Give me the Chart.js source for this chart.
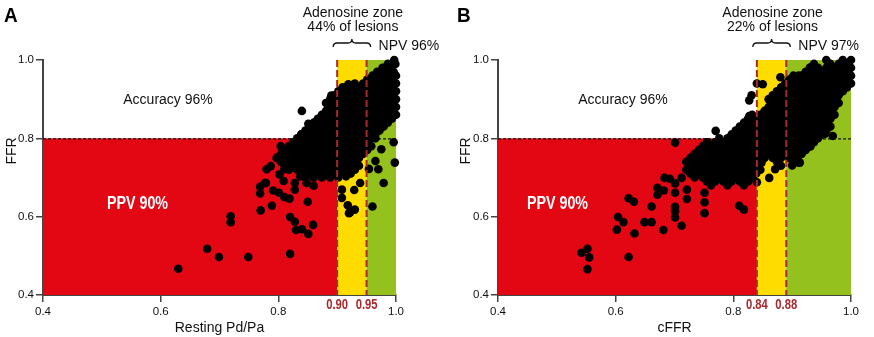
<!DOCTYPE html>
<html>
<head>
<meta charset="utf-8">
<script src="https://cdn.jsdelivr.net/npm/chart.js@4.4.1/dist/chart.umd.min.js"></script>
<style>
  html, body { margin: 0; padding: 0; background: #fff; }
  #wrap { position: relative; width: 874px; height: 337px; overflow: hidden; }
  #wrap canvas { position: absolute; top: 0; }
  #chartA { left: 0; }
  #chartB { left: 437px; }
</style>
</head>
<body>
<div id="wrap">
  <canvas id="chartA" width="460" height="337"></canvas>
  <canvas id="chartB" width="437" height="337"></canvas>
</div>
<script>
// axis range and FFR cut-off
const axisMin = 0.4;
const axisMax = 1.0;
const ffrCutoff = 0.8;
const tickValues = [0.4, 0.6, 0.8, 1.0];

// panel A: resting Pd/Pa vs FFR
const thresholdsA = [0.90, 0.95];
const thresholdLabelsA = ['0.90', '0.95'];
const textsA = ['A', 'Adenosine zone', '44% of lesions', 'NPV 96%', 'Accuracy 96%', 'PPV 90%', 'Resting Pd/Pa', 'FFR'];

// scattered points [Pd/Pa, FFR]
const outliersA = [
  [0.630, 0.467], [0.679, 0.518], [0.699, 0.497], [0.749, 0.497], [0.719, 0.601], [0.719, 0.586],
  [0.820, 0.505], [0.770, 0.616], [0.789, 0.628], [0.769, 0.659], [0.769, 0.676], [0.779, 0.686],
  [0.820, 0.599], [0.828, 0.587], [0.830, 0.566], [0.840, 0.568], [0.851, 0.556], [0.859, 0.579],
  [0.850, 0.638], [0.791, 0.667], [0.801, 0.661], [0.810, 0.650], [0.819, 0.646], [0.780, 0.721],
  [0.787, 0.729], [0.802, 0.708], [0.809, 0.691], [0.810, 0.721], [0.828, 0.669], [0.828, 0.686],
  [0.837, 0.703], [0.848, 0.686], [0.860, 0.679], [0.777, 0.686],
  [0.908, 0.669], [0.908, 0.648], [0.918, 0.629], [0.920, 0.609], [0.930, 0.618], [0.929, 0.668],
  [0.939, 0.686], [0.915, 0.703], [0.922, 0.611],
  [0.960, 0.626], [0.979, 0.686], [0.970, 0.721], [0.954, 0.722], [0.998, 0.738], [0.965, 0.742],
  [0.996, 0.790], [0.975, 0.772], [0.965, 0.800],
  [0.840, 0.870], [0.851, 0.837], [0.890, 0.909], [0.919, 0.938], [0.839, 0.810]
];
// dense cloud, one row per FFR level: [FFR, [Pd/Pa values]]
const rowsA = [
  [1.00, [0.997]],
  [0.99, [0.986, 0.999]],
  [0.98, [0.977, 0.990]],
  [0.97, [0.968, 0.982, 0.996]],
  [0.96, [0.960, 0.974, 0.988, 1.000]],
  [0.95, [0.951, 0.965, 0.979, 0.993]],
  [0.94, [0.930, 0.944, 0.958, 0.972, 0.986, 1.000]],
  [0.93, [0.909, 0.923, 0.937, 0.951, 0.965, 0.979, 0.993]],
  [0.92, [0.902, 0.916, 0.930, 0.944, 0.958, 0.972, 0.986, 1.000]],
  [0.91, [0.895, 0.909, 0.923, 0.937, 0.951, 0.965, 0.979, 0.993]],
  [0.90, [0.888, 0.902, 0.916, 0.930, 0.944, 0.958, 0.972, 0.986, 1.000]],
  [0.89, [0.881, 0.895, 0.909, 0.923, 0.937, 0.951, 0.965, 0.979, 0.993]],
  [0.88, [0.888, 0.902, 0.916, 0.930, 0.944, 0.958, 0.972, 0.986, 1.000]],
  [0.87, [0.881, 0.895, 0.909, 0.923, 0.937, 0.951, 0.965, 0.979, 0.993]],
  [0.86, [0.874, 0.888, 0.902, 0.916, 0.930, 0.944, 0.958, 0.972, 0.986, 1.000]],
  [0.85, [0.867, 0.881, 0.895, 0.909, 0.923, 0.937, 0.951, 0.965, 0.979, 0.993]],
  [0.84, [0.860, 0.874, 0.888, 0.902, 0.916, 0.930, 0.944, 0.958, 0.972, 0.986]],
  [0.83, [0.853, 0.867, 0.881, 0.895, 0.909, 0.923, 0.937, 0.951, 0.965, 0.979]],
  [0.82, [0.846, 0.860, 0.874, 0.888, 0.902, 0.916, 0.930, 0.944, 0.958, 0.972]],
  [0.81, [0.839, 0.853, 0.867, 0.881, 0.895, 0.909, 0.923, 0.937, 0.951, 0.965]],
  [0.80, [0.832, 0.846, 0.860, 0.874, 0.888, 0.902, 0.916, 0.930, 0.944, 0.958]],
  [0.79, [0.825, 0.839, 0.853, 0.867, 0.881, 0.895, 0.909, 0.923, 0.937, 0.951]],
  [0.78, [0.804, 0.818, 0.832, 0.846, 0.860, 0.874, 0.888, 0.902, 0.916, 0.930, 0.944, 0.958]],
  [0.77, [0.811, 0.825, 0.839, 0.853, 0.867, 0.881, 0.895, 0.909, 0.923, 0.937, 0.951]],
  [0.76, [0.804, 0.818, 0.832, 0.846, 0.860, 0.874, 0.888, 0.902, 0.916, 0.930, 0.944]],
  [0.75, [0.797, 0.811, 0.825, 0.839, 0.853, 0.867, 0.881, 0.895, 0.909, 0.923, 0.937]],
  [0.74, [0.804, 0.818, 0.832, 0.846, 0.860, 0.874, 0.888, 0.902, 0.916, 0.930]],
  [0.73, [0.811, 0.825, 0.839, 0.853, 0.867, 0.881, 0.895, 0.909, 0.923, 0.937]],
  [0.72, [0.818, 0.832, 0.846, 0.860, 0.874, 0.888, 0.902, 0.916, 0.930]],
  [0.71, [0.839, 0.853, 0.867, 0.881, 0.895, 0.909, 0.923]],
  [0.70, [0.846, 0.860, 0.874, 0.888, 0.902]]
];

// panel B: cFFR vs FFR
const thresholdsB = [0.84, 0.89];
const thresholdLabelsB = ['0.84', '0.88'];
const textsB = ['B', 'Adenosine zone', '22% of lesions', 'NPV 97%', 'Accuracy 96%', 'PPV 90%', 'cFFR', 'FFR'];

const outliersB = [
  [0.552, 0.466], [0.542, 0.508], [0.552, 0.518], [0.555, 0.496], [0.622, 0.497], [0.602, 0.567],
  [0.604, 0.599], [0.613, 0.586], [0.632, 0.557], [0.622, 0.647], [0.631, 0.638], [0.649, 0.586],
  [0.661, 0.586], [0.661, 0.626], [0.681, 0.566], [0.671, 0.674], [0.671, 0.656], [0.682, 0.667],
  [0.683, 0.699], [0.692, 0.697], [0.701, 0.625], [0.701, 0.614], [0.701, 0.598], [0.712, 0.577],
  [0.701, 0.661], [0.701, 0.685], [0.721, 0.645], [0.721, 0.669], [0.712, 0.699], [0.731, 0.731],
  [0.731, 0.713], [0.751, 0.637], [0.751, 0.609], [0.751, 0.661], [0.701, 0.789], [0.810, 0.628],
  [0.818, 0.618], [0.770, 0.819],
  [0.840, 0.688], [0.861, 0.699], [0.871, 0.721], [0.848, 0.738], [0.900, 0.731], [0.911, 0.738],
  [0.827, 0.897], [0.831, 0.910], [0.827, 0.857], [0.840, 0.940], [0.850, 0.938], [0.880, 0.956],
  [0.911, 0.960], [0.931, 0.981], [0.969, 0.806], [0.956, 0.812], [0.931, 0.779], [0.913, 0.738]
];
const rowsB = [
  [1.00, [0.958, 0.986, 1.000]],
  [0.99, [0.937, 0.965, 0.979, 0.993]],
  [0.98, [0.930, 0.944, 0.958, 0.972, 0.986, 1.000]],
  [0.97, [0.923, 0.937, 0.951, 0.965, 0.979, 0.993]],
  [0.96, [0.902, 0.916, 0.930, 0.944, 0.958, 0.972, 0.986, 1.000]],
  [0.95, [0.895, 0.909, 0.923, 0.937, 0.951, 0.965, 0.979, 0.993]],
  [0.94, [0.888, 0.902, 0.916, 0.930, 0.944, 0.958, 0.972, 0.986, 1.000]],
  [0.93, [0.881, 0.895, 0.909, 0.923, 0.937, 0.951, 0.965, 0.979, 0.993]],
  [0.92, [0.874, 0.888, 0.902, 0.916, 0.930, 0.944, 0.958, 0.972, 0.986]],
  [0.91, [0.867, 0.881, 0.895, 0.909, 0.923, 0.937, 0.951, 0.965, 0.979]],
  [0.90, [0.860, 0.874, 0.888, 0.902, 0.916, 0.930, 0.944, 0.958, 0.972]],
  [0.89, [0.867, 0.881, 0.895, 0.909, 0.923, 0.937, 0.951, 0.965, 0.979]],
  [0.88, [0.860, 0.874, 0.888, 0.902, 0.916, 0.930, 0.944, 0.958, 0.972]],
  [0.87, [0.853, 0.867, 0.881, 0.895, 0.909, 0.923, 0.937, 0.951, 0.965]],
  [0.86, [0.832, 0.846, 0.860, 0.874, 0.888, 0.902, 0.916, 0.930, 0.944, 0.958, 0.972]],
  [0.85, [0.825, 0.839, 0.853, 0.867, 0.881, 0.895, 0.909, 0.923, 0.937, 0.951, 0.965]],
  [0.84, [0.818, 0.832, 0.846, 0.860, 0.874, 0.888, 0.902, 0.916, 0.930, 0.944, 0.958]],
  [0.83, [0.811, 0.825, 0.839, 0.853, 0.867, 0.881, 0.895, 0.909, 0.923, 0.937, 0.951, 0.965]],
  [0.82, [0.804, 0.818, 0.832, 0.846, 0.860, 0.874, 0.888, 0.902, 0.916, 0.930, 0.944, 0.958]],
  [0.81, [0.797, 0.811, 0.825, 0.839, 0.853, 0.867, 0.881, 0.895, 0.909, 0.923, 0.937, 0.951]],
  [0.80, [0.776, 0.790, 0.804, 0.818, 0.832, 0.846, 0.860, 0.874, 0.888, 0.902, 0.916, 0.930, 0.944]],
  [0.79, [0.755, 0.769, 0.783, 0.797, 0.811, 0.825, 0.839, 0.853, 0.867, 0.881, 0.895, 0.909, 0.923, 0.937]],
  [0.78, [0.748, 0.762, 0.776, 0.790, 0.804, 0.818, 0.832, 0.846, 0.860, 0.874, 0.888, 0.902, 0.916, 0.930]],
  [0.77, [0.741, 0.755, 0.769, 0.783, 0.797, 0.811, 0.825, 0.839, 0.853, 0.867, 0.881, 0.895, 0.909, 0.923]],
  [0.76, [0.734, 0.748, 0.762, 0.776, 0.790, 0.804, 0.818, 0.832, 0.846, 0.860, 0.874, 0.888, 0.902, 0.916]],
  [0.75, [0.727, 0.741, 0.755, 0.769, 0.783, 0.797, 0.811, 0.825, 0.839, 0.853, 0.867, 0.881, 0.895, 0.909]],
  [0.74, [0.720, 0.734, 0.748, 0.762, 0.776, 0.790, 0.804, 0.818, 0.832, 0.846, 0.874, 0.902]],
  [0.73, [0.727, 0.741, 0.755, 0.769, 0.783, 0.797, 0.811, 0.825, 0.839, 0.881]],
  [0.72, [0.720, 0.734, 0.748, 0.762, 0.776, 0.790, 0.804, 0.818, 0.832, 0.846]],
  [0.71, [0.727, 0.741, 0.755, 0.769, 0.783, 0.797, 0.811, 0.825, 0.839]],
  [0.70, [0.734, 0.748, 0.762, 0.776, 0.790, 0.804, 0.818, 0.832]],
  [0.69, [0.755, 0.769, 0.783, 0.797, 0.811, 0.825]],
  [0.68, [0.762, 0.790, 0.818]]
];

const RED = '#e30613';
const YELLOW = '#ffdc00';
const GREEN = '#95c11f';
const DASH_RED = '#a8282c';
const AXIS = '#444';
const SANS = '"Liberation Sans", Arial, sans-serif';

function toPoints(rows, outliers) {
  const pts = [];
  rows.forEach(r => r[1].forEach(x => pts.push({ x: x, y: r[0] })));
  outliers.forEach(p => pts.push({ x: p[0], y: p[1] }));
  return pts;
}

// text squeezed horizontally, to mimic the condensed face of the original
function narrowText(ctx, s, x, y, align, squeeze) {
  const w = ctx.measureText(s).width * squeeze;
  let left = x;
  if (align === 'center') left = x - w / 2;
  if (align === 'right') left = x - w;
  ctx.save();
  ctx.textAlign = 'left';
  ctx.translate(left, y);
  ctx.scale(squeeze, 1);
  ctx.fillText(s, 0, 0);
  ctx.restore();
}

// zones, dashed lines and labels
const zonePlugin = {
  id: 'zones',
  beforeDatasetsDraw(chart) {
    const o = chart.options.plugins.zones;
    const { ctx, chartArea: a, scales: { x, y } } = chart;
    const t0 = x.getPixelForValue(o.thresholds[0]);
    const t1 = x.getPixelForValue(o.thresholds[1]);
    const yc = y.getPixelForValue(ffrCutoff);
    ctx.save();
    ctx.fillStyle = RED;
    ctx.fillRect(a.left, yc, t0 - a.left, a.bottom - yc);
    ctx.fillStyle = YELLOW;
    ctx.fillRect(t0, a.top, t1 - t0, a.bottom - a.top);
    ctx.fillStyle = GREEN;
    ctx.fillRect(t1, a.top, a.right - t1, a.bottom - a.top);
    // FFR 0.80 line
    ctx.strokeStyle = '#111';
    ctx.lineWidth = 1.2;
    ctx.setLineDash([3, 2]);
    ctx.beginPath();
    ctx.moveTo(a.left, yc + 0.5);
    ctx.lineTo(a.right, yc + 0.5);
    ctx.stroke();
    ctx.restore();
  },
  afterDatasetsDraw(chart) {
    const o = chart.options.plugins.zones;
    const { ctx, chartArea: a, scales: { x } } = chart;
    const t = o.thresholds.map(v => x.getPixelForValue(v));
    const tx = o.texts;
    ctx.save();
    ctx.strokeStyle = DASH_RED;
    ctx.lineWidth = 2;
    ctx.setLineDash([7, 3]);
    t.forEach(px => {
      ctx.beginPath();
      ctx.moveTo(px, a.top);
      ctx.lineTo(px, a.bottom);
      ctx.stroke();
    });
    ctx.setLineDash([]);
    ctx.textBaseline = 'alphabetic';

    // threshold labels under the axis
    ctx.fillStyle = DASH_RED;
    ctx.font = 'bold 15px ' + SANS;
    o.thresholdLabels.forEach((s, i) => narrowText(ctx, s, t[i], 309, 'center', 0.75));

    // panel letter
    ctx.fillStyle = '#000';
    ctx.font = 'bold 21px ' + SANS;
    narrowText(ctx, tx[0], o.letterX, 22, 'left', 0.9);

    // adenosine zone header + brace
    const mid = (t[0] + t[1]) / 2 + 1;
    ctx.font = '14px ' + SANS;
    ctx.textAlign = 'center';
    ctx.fillStyle = '#111';
    ctx.fillText(tx[1], mid, 17);
    ctx.fillText(tx[2], mid, 31);
    ctx.textAlign = 'left';
    ctx.fillText(tx[3], t[1] + 12, 50);

    const b0 = t[0] - 4, b1 = t[1] + 4, by = 43, bm = (b0 + b1) / 2;
    ctx.strokeStyle = '#111';
    ctx.lineWidth = 1.3;
    ctx.beginPath();
    ctx.moveTo(b0, by + 4);
    ctx.quadraticCurveTo(b0, by, b0 + 4, by);
    ctx.lineTo(bm - 4, by);
    ctx.quadraticCurveTo(bm, by, bm, by - 4);
    ctx.quadraticCurveTo(bm, by, bm + 4, by);
    ctx.lineTo(b1 - 4, by);
    ctx.quadraticCurveTo(b1, by, b1, by + 4);
    ctx.stroke();

    // accuracy / PPV
    ctx.textAlign = 'center';
    ctx.font = '14px ' + SANS;
    ctx.fillText(tx[4], a.left + 125, 104);
    ctx.fillStyle = '#fff';
    ctx.font = 'bold 19px ' + SANS;
    narrowText(ctx, tx[5], a.left + o.ppvOffset, 209, 'left', 0.75);

    // axis titles
    ctx.fillStyle = '#111';
    ctx.font = '14px ' + SANS;
    ctx.textAlign = 'center';
    ctx.fillText(tx[6], (a.left + a.right) / 2, 332);
    ctx.save();
    ctx.translate(o.ffrX, 151);
    ctx.rotate(-Math.PI / 2);
    ctx.fillText(tx[7], 0, 0);
    ctx.restore();
    ctx.restore();
  }
};

function makePanel(id, points, thresholds, labels, texts, layout) {
  const tickFont = { family: SANS, size: 11.5 };
  return new Chart(document.getElementById(id), {
    type: 'scatter',
    data: {
      datasets: [{
        data: points,
        backgroundColor: '#000',
        borderWidth: 0,
        pointRadius: 4.3,
        pointHoverRadius: 4.3,
        clip: false
      }]
    },
    options: {
      responsive: false,
      animation: false,
      events: [],
      layout: { padding: { top: 60, right: layout.padRight, bottom: 0, left: 0 } },
      scales: {
        x: {
          type: 'linear', min: axisMin, max: axisMax,
          afterBuildTicks: s => { s.ticks = tickValues.map(v => ({ value: v })); },
          afterFit: s => { s.height = 42; },
          ticks: { font: tickFont, color: '#111', padding: 3, maxRotation: 0,
                   callback: v => v.toFixed(1) },
          grid: { display: true, drawOnChartArea: false, drawTicks: true, tickLength: 7,
                  color: AXIS, lineWidth: 1.5 },
          border: { display: true, color: AXIS, width: 2 }
        },
        y: {
          type: 'linear', min: axisMin, max: axisMax,
          afterBuildTicks: s => { s.ticks = tickValues.map(v => ({ value: v })); },
          afterFit: s => { s.width = layout.yWidth; },
          ticks: { font: tickFont, color: '#111', padding: 2,
                   callback: v => v.toFixed(1) },
          grid: { display: true, drawOnChartArea: false, drawTicks: true, tickLength: 7,
                  color: AXIS, lineWidth: 1.5 },
          border: { display: true, color: AXIS, width: 2 }
        }
      },
      plugins: {
        legend: { display: false },
        tooltip: { enabled: false },
        zones: {
          thresholds: thresholds,
          thresholdLabels: labels,
          texts: texts,
          letterX: layout.letterX,
          ffrX: layout.ffrX,
          ppvOffset: layout.ppvOffset
        }
      }
    },
    plugins: [zonePlugin]
  });
}

makePanel('chartA', toPoints(rowsA, outliersA), thresholdsA, thresholdLabelsA, textsA,
  { yWidth: 43, padRight: 64, letterX: 4, ffrX: 16, ppvOffset: 64 });
makePanel('chartB', toPoints(rowsB, outliersB), thresholdsB, thresholdLabelsB, textsB,
  { yWidth: 61, padRight: 23, letterX: 20, ffrX: 33, ppvOffset: 29 });
</script>
</body>
</html>
